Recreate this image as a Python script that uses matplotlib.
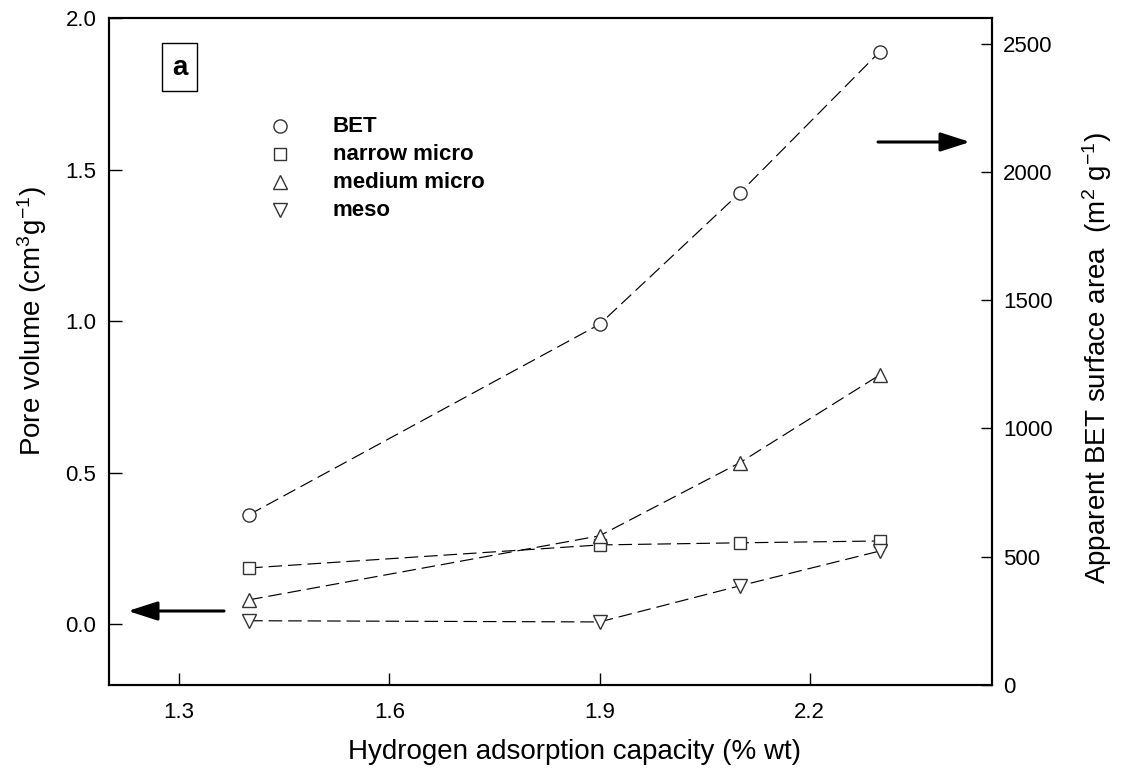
import matplotlib
matplotlib.use("Agg")
import matplotlib.pyplot as plt
from matplotlib.patches import Rectangle

plt.rcParams['font.family'] = ['Liberation Sans', 'DejaVu Sans']
plt.rcParams['mathtext.fontset'] = 'custom'
plt.rcParams['mathtext.rm'] = 'Liberation Sans'
plt.rcParams['mathtext.it'] = 'Liberation Sans:italic'
plt.rcParams['mathtext.bf'] = 'Liberation Sans:bold'
plt.rcParams['mathtext.default'] = 'regular'

x = [1.4, 1.9, 2.1, 2.3]
bet_area = [664, 1406, 1918, 2469]          # right axis, m2/g
narrow_micro = [0.186, 0.262, 0.269, 0.275]  # left axis, cm3/g
medium_micro = [0.081, 0.292, 0.533, 0.823]
meso = [0.012, 0.008, 0.127, 0.242]

xticks = [1.3, 1.6, 1.9, 2.2]
yticks_left = [0.0, 0.5, 1.0, 1.5, 2.0]
yticks_right = [0, 500, 1000, 1500, 2000, 2500]

W, H = 1144, 774
fig = plt.figure(figsize=(W / 100, H / 100), dpi=100)
ax = fig.add_axes([109 / W, 1 - 685 / H, 883 / W, 667 / H])
ax2 = ax.twinx()

dash = (0, (11.5, 5))
edge = '#333333'
mk = dict(markerfacecolor='white', markeredgecolor=edge,
          markeredgewidth=1.0, color='black', linewidth=0.85, linestyle=dash)

ax.plot(x, narrow_micro, marker='s', markersize=9, **mk)
ax.plot(x, medium_micro, marker='^', markersize=10.5, **mk)
ax.plot(x, meso, marker='v', markersize=10.5, **mk)
ax2.plot(x, bet_area, marker='o', markersize=9.5, **mk)

ax.set_xlim(1.2, 2.46)
ax.set_ylim(-0.2, 2.0)
ax2.set_ylim(0, 2600)
ax.set_xticks(xticks)
ax.set_xticklabels([f"{t:.1f}" for t in xticks])
ax.set_yticks(yticks_left)
ax.set_yticklabels([f"{t:.1f}" for t in yticks_left])
ax2.set_yticks(yticks_right)

for a in (ax, ax2):
    for s in a.spines.values():
        s.set_linewidth(1.5)
ax.tick_params(axis='both', direction='in', length=9, width=1.0,
               labelsize=16, top=False, right=False)
ax.tick_params(axis='x', pad=12)
ax.tick_params(axis='y', pad=9)
ax2.tick_params(axis='y', direction='in', length=8, width=1.0,
                labelsize=16, pad=8)

fig.text(575 / W, 1 - 752 / H, "Hydrogen adsorption capacity (% wt)",
         fontsize=20, ha='center', va='center')
fig.text(32 / W, 1 - 321 / H, "Pore volume (cm$^{3}$g$^{-1}$)",
         fontsize=20, ha='center', va='center', rotation=90)
fig.text(1097 / W, 1 - 358 / H,
         "Apparent BET surface area  (m$^{2}$ g$^{-1}$)",
         fontsize=20, ha='center', va='center', rotation=90)

# legend-like manual entries
leg_items = [('o', 'BET', 9.5), ('s', 'narrow micro', 9),
             ('^', 'medium micro', 10.5), ('v', 'meso', 10.5)]
y0 = 1 - (126 - 18) / 667
dy = 28 / 667
for i, (m, lab, ms) in enumerate(leg_items):
    yy = y0 - i * dy
    ax.plot([(280 - 109) / 883], [yy], marker=m, markersize=ms,
            markerfacecolor='white', markeredgecolor=edge,
            markeredgewidth=1.0, transform=ax.transAxes, clip_on=False,
            linestyle='none')
    ax.text((333 - 109) / 883, yy, lab, transform=ax.transAxes,
            fontsize=16, fontweight='bold', va='center', ha='left')

ax.add_patch(Rectangle(((162 - 109) / 883, 1 - (91 - 18) / 667),
                       35 / 883, 48 / 667, transform=ax.transAxes,
                       facecolor='white', edgecolor='black', linewidth=1.0))
ax.text((179.5 - 109) / 883, 1 - (68 - 18) / 667, "a",
        transform=ax.transAxes, fontsize=20, fontweight='bold',
        ha='center', va='center')

arrowprops = dict(arrowstyle='-|>,head_length=1.8,head_width=0.58',
                  color='black', linewidth=2.2, shrinkA=0, shrinkB=0)
ax.annotate('', xy=((128 - 109) / 883, 1 - (611 - 18) / 667),
            xytext=((224 - 109) / 883, 1 - (611 - 18) / 667),
            xycoords='axes fraction', textcoords='axes fraction',
            arrowprops=arrowprops)
ax.annotate('', xy=((970 - 109) / 883, 1 - (142 - 18) / 667),
            xytext=((878 - 109) / 883, 1 - (142 - 18) / 667),
            xycoords='axes fraction', textcoords='axes fraction',
            arrowprops=arrowprops)

fig.savefig("out.png", dpi=100)
